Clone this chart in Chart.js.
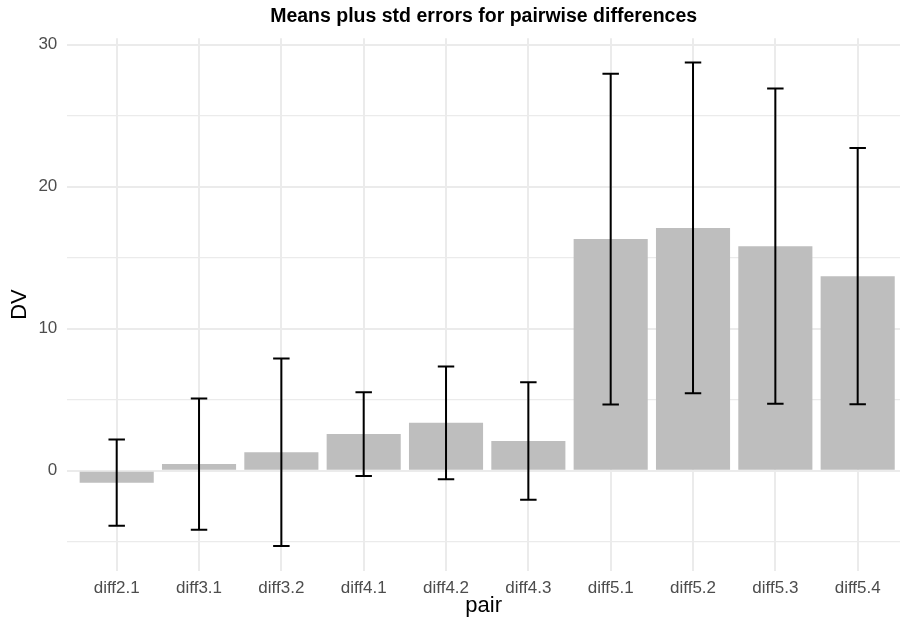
<!DOCTYPE html>
<html>
<head>
<meta charset="utf-8">
<title>Means plus std errors for pairwise differences</title>
<script src="https://cdn.jsdelivr.net/npm/chart.js@4.4.1/dist/chart.umd.min.js"></script>
<style>
  html, body { margin: 0; padding: 0; background: #ffffff; overflow: hidden; }
  #wrap { width: 900px; height: 623px; }
</style>
</head>
<body>
<div id="wrap"><canvas id="chart" width="900" height="623"></canvas></div>
<script>
// Pairwise differences: mean and standard error of each pair
const categories = ['diff2.1', 'diff3.1', 'diff3.2', 'diff4.1', 'diff4.2',
                    'diff4.3', 'diff5.1', 'diff5.2', 'diff5.3', 'diff5.4'];
const means      = [-0.84, 0.47, 1.30, 2.58, 3.37, 2.09, 16.31, 17.10, 15.81, 13.70];
const stdErrors  = [ 3.03, 4.62, 6.60, 2.95, 3.97, 4.14, 11.65, 11.65, 11.10,  9.02];
const yTickLabels = [0, 10, 20, 30];

const FONT = '"Liberation Sans", Arial, Helvetica, sans-serif';
const GRID = '#EBEBEB';

// Vertical error bars (mean ± se) with short caps, drawn over the bars
const errorBars = {
  id: 'errorBars',
  afterDatasetsDraw(chart) {
    const { ctx, scales: { x, y } } = chart;
    ctx.save();
    ctx.strokeStyle = '#000000';
    ctx.lineWidth = 2;
    ctx.lineCap = 'butt';
    means.forEach((m, i) => {
      const cx = x.getPixelForValue(i);
      const half = x.getPixelForValue(i + 0.1) - cx;
      const top = y.getPixelForValue(m + stdErrors[i]);
      const bot = y.getPixelForValue(m - stdErrors[i]);
      ctx.beginPath();
      ctx.moveTo(cx, top); ctx.lineTo(cx, bot);
      ctx.moveTo(cx - half, top); ctx.lineTo(cx + half, top);
      ctx.moveTo(cx - half, bot); ctx.lineTo(cx + half, bot);
      ctx.stroke();
    });
    ctx.restore();
  }
};

new Chart(document.getElementById('chart'), {
  type: 'bar',
  data: {
    datasets: [{
      label: 'DV',
      data: means.map((m, i) => ({ x: i, y: m })),
      backgroundColor: '#BEBEBE',
      borderWidth: 0,
      categoryPercentage: 1,
      barPercentage: 0.9
    }]
  },
  options: {
    responsive: false,
    devicePixelRatio: 1,
    animation: false,
    layout: { padding: 0 },
    plugins: {
      legend: { display: false },
      tooltip: { enabled: false },
      title: {
        display: true,
        text: 'Means plus std errors for pairwise differences',
        fullSize: false,
        color: '#000000',
        font: { family: FONT, size: 19.5, weight: 'bold', lineHeight: 1.2 },
        padding: { top: 5.3, bottom: 9.6 }
      }
    },
    scales: {
      x: {
        type: 'linear',
        min: -0.6,
        max: 9.514,
        offset: false,
        grid: { color: GRID, lineWidth: 2, drawTicks: false, offset: false },
        border: { display: false },
        ticks: {
          stepSize: 1,
          includeBounds: false,
          autoSkip: false,
          maxRotation: 0,
          padding: 7,
          color: '#4D4D4D',
          font: { family: FONT, size: 17 },
          callback: (v) => categories[v] ?? ''
        },
        title: {
          display: true,
          text: 'pair',
          color: '#000000',
          font: { family: FONT, size: 22, lineHeight: 1.2 },
          padding: { top: 0, bottom: 4.2 }
        },
        afterFit: (s) => { s.height = 52.3; }
      },
      y: {
        type: 'linear',
        min: -7.04,
        max: 30.45,
        grid: {
          color: GRID,
          lineWidth: (c) => (c.tick && yTickLabels.includes(c.tick.value)) ? 2 : 1.2,
          drawTicks: false
        },
        border: { display: false },
        ticks: {
          stepSize: 5,
          includeBounds: false,
          padding: 10,
          color: '#4D4D4D',
          font: { family: FONT, size: 17 },
          callback: (v) => yTickLabels.includes(v) ? String(v) : ''
        },
        title: {
          display: true,
          text: 'DV',
          color: '#000000',
          font: { family: FONT, size: 22, lineHeight: 1.2 },
          padding: { top: 6.8, bottom: 0 }
        },
        afterFit: (s) => { s.width = 67.3; }
      }
    }
  },
  plugins: [errorBars]
});
</script>
</body>
</html>
